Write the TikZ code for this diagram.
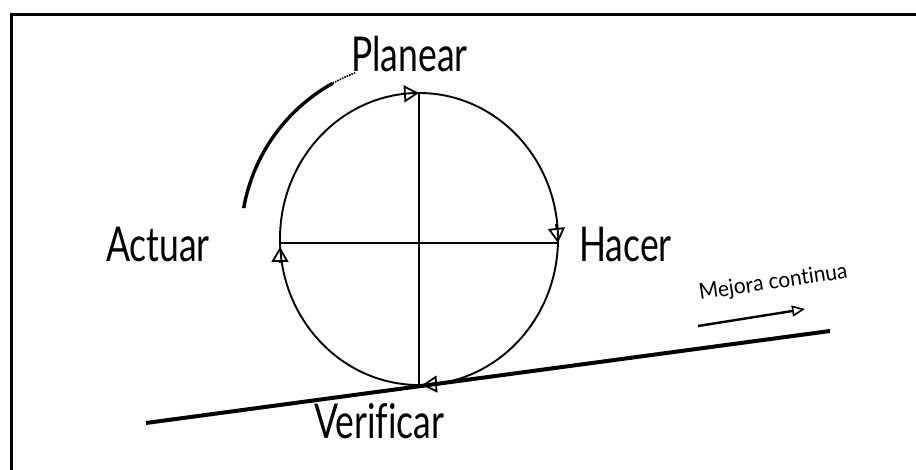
\documentclass[tikz,border=0pt]{standalone}
\usepackage{fontspec}
\setmainfont{Lato}[Ligatures={NoCommon}]
\usetikzlibrary{arrows.meta,calc}
\tikzset{
  lbl/.style={font=\fontsize{48}{50}\selectfont, inner sep=0pt, anchor=base west, xscale=0.74},
  ring/.style={line width=1.9pt},
  opentip/.style={-{Triangle[open,length=15pt,width=17pt,line width=1.8pt]}, line width=1.8pt, shorten >=0pt},
}
\begin{document}
\begin{tikzpicture}[x=1pt,y=-1pt]
\useasboundingbox (0,0) rectangle (916,470);
% frame
\draw[line width=3pt] (11,470) -- (11,15) -- (916,15);
% circle geometry
\coordinate (C) at (419,239);
\coordinate (T) at (419,93);
\coordinate (B) at (419,385);
\coordinate (L) at (280,243);
\coordinate (R) at (558,243);
\draw[ring] (C) ellipse [x radius=139, y radius=146];
\draw[ring] (T) -- (B);
\draw[ring] (L) -- (R);
% arrowheads on circle (clockwise)
\draw[opentip] ($(T)+(-18,1)$) -- (T);
\draw[opentip] ($(R)+(-2,-19)$) -- (R);
\draw[opentip] ($(B)+(20,-1)$) -- ($(B)+(3,0)$);
\draw[opentip] ($(L)+(0,20)$) -- ($(L)+(0,4)$);
% outer arc
\draw[line width=3.4pt] (C) ++(190:178) arc[start angle=190, end angle=241, radius=178];
\draw[line width=1.6pt, densely dotted] (C) ++(241:178) arc[start angle=241, end angle=249, radius=178];
% improvement line
\coordinate (S0) at (146,423);
\coordinate (S1) at (830,331);
\draw[line width=4pt] (S0) -- (S1);
% labels
\node[lbl] (plan) at (351,72) {Planear};
\node[lbl] (act) at (106,262) {Actuar};
\node[lbl] (hac) at (579,262) {Hacer};
\node[lbl] (ver) at (314,438) {Verificar};
\node[font=\fontsize{22}{24}\selectfont, inner sep=0pt, anchor=base west, rotate=8.5, xscale=0.95] (mej) at (700,300) {Mejora continua};
\coordinate (M0) at (698,326);
\coordinate (M1) at (805,309);
\draw[line width=2.4pt, -{Triangle[open,length=13pt,width=11pt,line width=1.6pt]}] (M0) -- (M1);
\end{tikzpicture}
\end{document}
